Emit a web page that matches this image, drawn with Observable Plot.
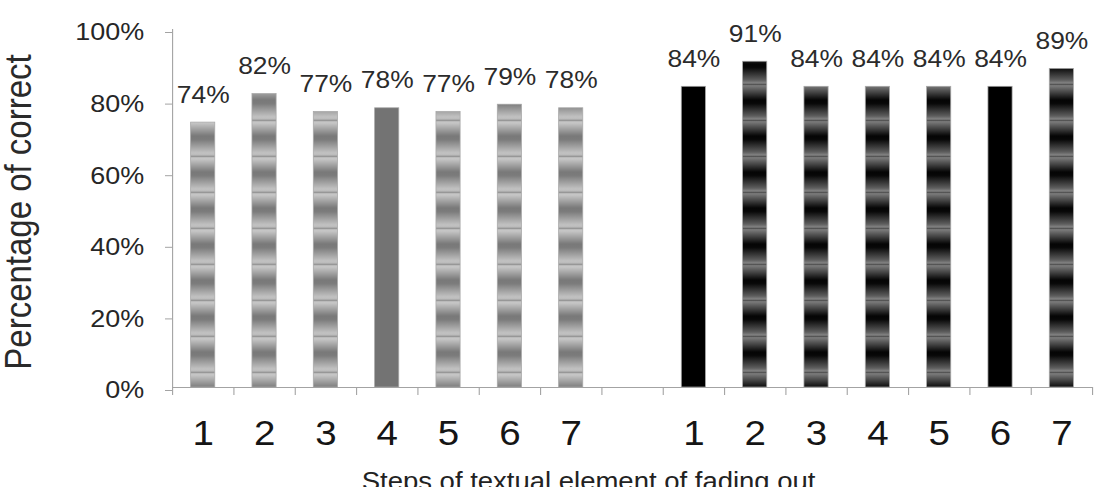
<!DOCTYPE html>
<html>
<head>
<meta charset="utf-8">
<script src="https://cdn.jsdelivr.net/npm/d3@7"></script>
<script src="https://cdn.jsdelivr.net/npm/@observablehq/plot@0.6"></script>
<style>
  html, body { margin: 0; padding: 0; background: #fff; overflow: hidden; }
</style>
</head>
<body>
<div id="chart"></div>
<script>
// Step labels shared by both groups
const steps = ["1", "2", "3", "4", "5", "6", "7"];
// Percentage of correct answers per step
const firstSeries = [74, 82, 77, 78, 77, 79, 78];
const secondSeries = [84, 91, 84, 84, 84, 84, 89];
// Y axis ticks (percent)
const yTicks = [0, 20, 40, 60, 80, 100];
const yTitle = "Percentage of correct";
const xTitle = "Steps of textual element of fading out";

// Each group takes seven slots, with one empty slot between the groups
const perGroup = steps.length;
const slotCount = perGroup * 2 + 1;
const rows = [
  ...firstSeries.map((value, i) => ({group: "first", step: steps[i], slot: i, value})),
  ...secondSeries.map((value, i) => ({group: "second", step: steps[i], slot: perGroup + 1 + i, value}))
];
const boundaries = d3.range(slotCount + 1);
const centerLabel = new Map(rows.map(d => [d.slot + 0.5, d.step]));

// Banded fills; a few bars are drawn solid
function barFill(d) {
  if (d.group === "first") return d.step === "4" ? "#737373" : "url(#bandsLight)";
  return d.step === "1" || d.step === "6" ? "#000000" : "url(#bandsDark)";
}

// The drawing is laid out narrower and then widened to the page width
const W = 1105, H = 487, widen = 1.1, W0 = W / widen;
const axisGrey = "#a3a3a3";
const font = "'Liberation Sans', Arial, sans-serif";

const svg = Plot.plot({
  width: W0,
  height: H,
  marginLeft: 156.4,
  marginRight: 11.8,
  marginTop: 29,
  marginBottom: 100,
  style: {fontFamily: font, background: "#fff", overflow: "visible"},
  x: {type: "linear", domain: [0, slotCount]},
  y: {domain: [0, 100]},
  color: {type: "identity"},
  marks: [
    Plot.rectY(rows, {
      x1: "slot",
      x2: d => d.slot + 1,
      y1: 0,
      y2: "value",
      insetLeft: 16.9,
      insetRight: 16.9,
      fill: barFill,
      stroke: "#a8a8a8",
      strokeWidth: 0.7
    }),
    Plot.text(rows, {
      x: d => d.slot + 0.5,
      y: "value",
      text: d => `${d.value}%`,
      dy: -20,
      lineAnchor: "bottom",
      fontSize: 24,
      fill: "#2b2b2b"
    }),
    // axis lines
    Plot.ruleX([0], {y1: 0, y2: 100, stroke: axisGrey}),
    Plot.ruleY([0], {x1: 0, x2: slotCount, stroke: axisGrey}),
    Plot.axisY(yTicks, {
      tickSize: 6.4,
      tickPadding: 19.5,
      tickFormat: d => `${d}%`,
      fontSize: 24.5,
      dy: 3,
      stroke: axisGrey,
      fill: "#262626",
      label: null
    }),
    // slot separators below the baseline
    Plot.axisX(boundaries, {
      tickSize: 8,
      tickFormat: () => "",
      stroke: axisGrey,
      label: null
    }),
    Plot.axisX([...centerLabel.keys()], {
      tickSize: 0,
      tickPadding: 33,
      tickFormat: d => centerLabel.get(d),
      fontSize: 35,
      fill: "#151515",
      label: null
    }),
    Plot.text([xTitle], {
      frameAnchor: "bottom",
      text: d => d,
      lineAnchor: "top",
      dx: -40,
      dy: 84.7,
      fontSize: 25,
      fill: "#222"
    }),
    Plot.text([yTitle], {
      frameAnchor: "left",
      text: d => d,
      rotate: -90,
      textAnchor: "middle",
      lineAnchor: "top",
      dx: -151.9,
      dy: 3.5,
      fontSize: 33,
      fill: "#2a2a2a"
    })
  ]
});

// Striped band patterns, aligned to the baseline
const ns = "http://www.w3.org/2000/svg";
function el(name, attrs, parent) {
  const node = document.createElementNS(ns, name);
  for (const [k, v] of Object.entries(attrs)) node.setAttribute(k, v);
  if (parent) parent.appendChild(node);
  return node;
}
const baseY = svg.scale("y").apply(0);
const band = 36;
const defs = el("defs", {});
function bands(id, stops, lineColor) {
  const grad = el("linearGradient", {id: id + "Grad", x1: 0, y1: 0, x2: 0, y2: 1}, defs);
  for (const [offset, color] of stops) el("stop", {offset, "stop-color": color}, grad);
  const pat = el("pattern", {
    id, patternUnits: "userSpaceOnUse", x: 0, y: baseY - 15.3, width: W0, height: band
  }, defs);
  el("rect", {x: 0, y: 0, width: W0, height: band, fill: `url(#${id}Grad)`}, pat);
  el("rect", {x: 0, y: 0, width: W0, height: 1.2, fill: lineColor}, pat);
}
bands("bandsLight", [
  [0, "#b8b8b8"], [0.08, "#c8c8c8"], [0.45, "#797979"], [0.55, "#7b7b7b"], [0.92, "#c2c2c2"], [1, "#b8b8b8"]
], "#8a8a8a");
bands("bandsDark", [
  [0, "#8c8c8c"], [0.1, "#6e6e6e"], [0.45, "#050505"], [0.55, "#080808"], [0.9, "#5e5e5e"], [1, "#8c8c8c"]
], "#474747");
svg.insertBefore(defs, svg.firstChild);

// widen horizontally to the page width
svg.setAttribute("width", W);
svg.setAttribute("height", H);
svg.setAttribute("preserveAspectRatio", "none");
svg.style.width = W + "px";
svg.style.height = H + "px";
svg.style.maxWidth = "none";

document.getElementById("chart").appendChild(svg);
</script>
</body>
</html>
